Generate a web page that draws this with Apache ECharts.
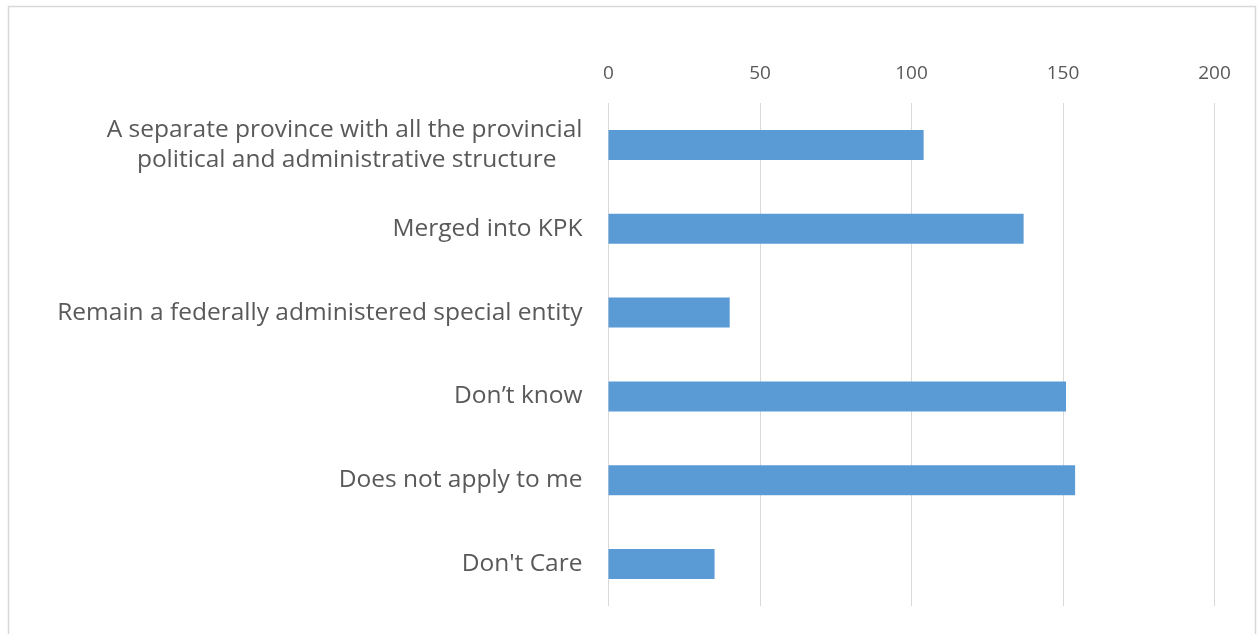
<!DOCTYPE html>
<html>
<head>
<meta charset="utf-8">
<script src="https://cdn.jsdelivr.net/npm/echarts@6/dist/echarts.min.js"></script>
<style>html,body{margin:0;padding:0;background:#fff;}#c{width:1259px;height:634px;}</style>
</head>
<body>
<div id="c"></div>
<script>
const categories = [
  "A separate province with all the provincial\npolitical and administrative structure",
  "Merged into KPK",
  "Remain a federally administered special entity",
  "Don\u2019t know",
  "Does not apply to me",
  "Don't Care"
];
const values = [104, 137, 40, 151, 154, 35];
const tickMin = 0, tickMax = 200, tickStep = 50;

const chart = echarts.init(document.getElementById('c'), null, {renderer: 'canvas'});
chart.setOption({
  animation: false,
  backgroundColor: '#ffffff',
  graphic: [{
    type: 'rect', left: 6, top: 4,
    shape: {width: 1247, height: 640},
    style: {fill: 'none', stroke: '#d9d9d9', lineWidth: 1.5},
    silent: true
  }],
  grid: {left: 608.5, right: 44.5, top: 103, bottom: 28, containLabel: false},
  xAxis: {
    type: 'value', position: 'top',
    min: tickMin, max: tickMax, interval: tickStep,
    axisLine: {show: false}, axisTick: {show: false},
    splitLine: {show: true, lineStyle: {color: '#d9d9d9', width: 1}},
    axisLabel: {color: '#595959', fontFamily: 'Open Sans', fontSize: 19, margin: 20}
  },
  yAxis: {
    type: 'category', inverse: true, data: categories,
    axisLine: {show: false}, axisTick: {show: false},
    axisLabel: {
      color: '#595959', fontFamily: 'Open Sans', fontSize: 24.5, margin: 26,
      lineHeight: 30,
      formatter: function (v) {
        const parts = v.split('\n');
        if (parts.length === 2) return '{a|' + parts[0] + '}\n{b|' + parts[1] + '}';
        return v;
      },
      rich: {
        a: {color: '#595959', fontFamily: 'Open Sans', fontSize: 24.5, lineHeight: 30},
        b: {color: '#595959', fontFamily: 'Open Sans', fontSize: 24.5, lineHeight: 30, padding: [0, 26, 0, 0]}
      }
    }
  },
  series: [{
    type: 'bar', data: values, barWidth: 30,
    itemStyle: {color: '#5b9bd5'}
  }]
});
</script>
</body>
</html>
